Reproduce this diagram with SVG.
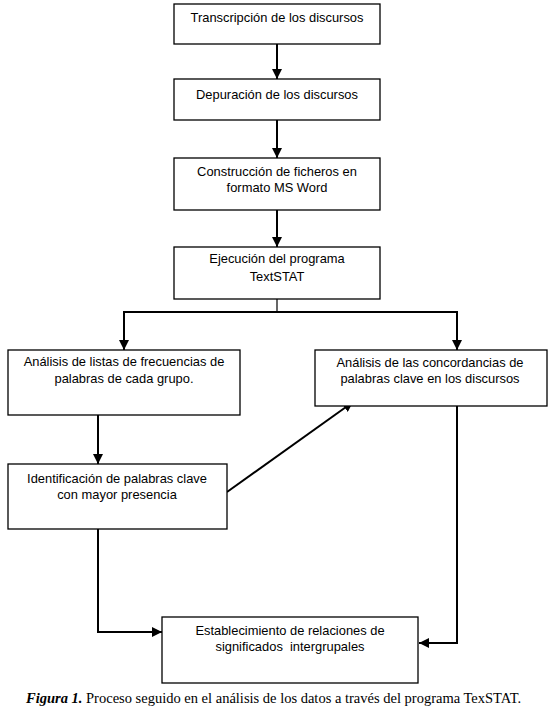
<svg xmlns="http://www.w3.org/2000/svg" width="550" height="718" viewBox="0 0 550 718">
<style>
.box{fill:#fff;stroke:#000;stroke-width:1.3}
.t{font-family:"Liberation Sans",Arial,sans-serif;font-size:12.9px;fill:#000;text-anchor:middle}
.c{fill:none;stroke:#000;stroke-width:2}
.cap{font-family:"Liberation Serif","Times New Roman",serif;font-size:14.5px;fill:#000}
</style>
<defs>
<marker id="ah" viewBox="0 0 10 10" refX="10" refY="5" markerWidth="5" markerHeight="5" markerUnits="strokeWidth" orient="auto">
<path d="M0,0 L10,5 L0,10 Z" fill="#000"/>
</marker>
</defs>
<rect width="550" height="718" fill="#fff"/>
<g id="connectors">
<line class="c" x1="277" y1="44" x2="277" y2="79" marker-end="url(#ah)"/>
<line class="c" x1="277" y1="120" x2="277" y2="158" marker-end="url(#ah)"/>
<line class="c" x1="277" y1="210" x2="277" y2="247" marker-end="url(#ah)"/>
<line x1="277" y1="299" x2="277" y2="312" stroke="#000" stroke-width="1.2"/>
<polyline class="c" points="124,350 124,312 457,312 457,350" marker-end="url(#ah)"/>
<line class="c" x1="124" y1="312" x2="124" y2="350" marker-end="url(#ah)"/>
<line class="c" x1="98" y1="415" x2="98" y2="464" marker-end="url(#ah)"/>
<line class="c" x1="227" y1="492" x2="353" y2="402" marker-end="url(#ah)"/>
<polyline class="c" points="98,529 98,632 162,632" marker-end="url(#ah)"/>
<polyline class="c" points="457,406 457,643 419,643" marker-end="url(#ah)"/>
</g>
<g id="n1"><rect class="box" x="174" y="4" width="206" height="40"/><text class="t" x="277" y="22">Transcripción de los discursos</text></g>
<g id="n2"><rect class="box" x="174" y="79" width="206" height="41"/><text class="t" x="277" y="99">Depuración de los discursos</text></g>
<g id="n3"><rect class="box" x="174" y="158" width="206" height="52"/><text class="t" x="277" y="176">Construcción de ficheros en</text><text class="t" x="277" y="192">formato MS Word</text></g>
<g id="n4"><rect class="box" x="174" y="247" width="206" height="52"/><text class="t" x="277" y="263">Ejecución del programa</text><text class="t" x="277" y="281">TextSTAT</text></g>
<g id="n5"><rect class="box" x="8" y="350" width="232" height="65"/><text class="t" x="124" y="366">Análisis de listas de frecuencias de</text><text class="t" x="124" y="383">palabras de cada grupo.</text></g>
<g id="n6"><rect class="box" x="315" y="350" width="232" height="56"/><text class="t" x="430" y="367">Análisis de las concordancias de</text><text class="t" x="430" y="383">palabras clave en los discursos</text></g>
<g id="n7"><rect class="box" x="8" y="464" width="219" height="65"/><text class="t" x="117" y="483">Identificación de palabras clave</text><text class="t" x="117" y="499">con mayor presencia</text></g>
<g id="n8"><rect class="box" x="162" y="617" width="256" height="66"/><text class="t" x="290" y="635">Establecimiento de relaciones de</text><text class="t" x="290" y="651" xml:space="preserve">significados  intergrupales</text></g>
<text class="cap" x="26" y="703"><tspan font-weight="bold" font-style="italic">Figura 1.</tspan> Proceso seguido en el análisis de los datos a través del programa TexSTAT.</text>
</svg>
